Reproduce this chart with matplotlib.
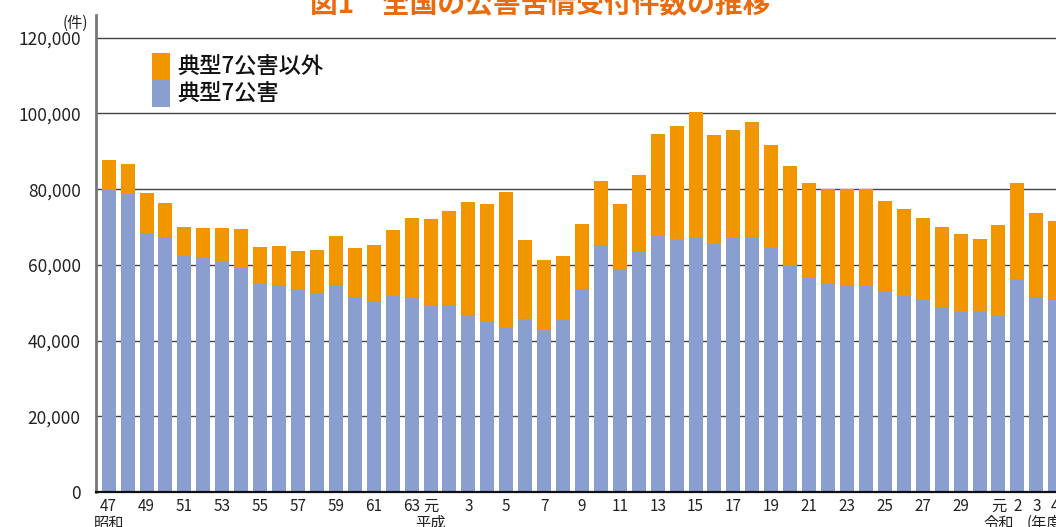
import matplotlib
matplotlib.use("Agg")
import matplotlib.pyplot as plt
from matplotlib.patches import Rectangle

plt.rcParams["font.family"] = ["Noto Sans CJK JP", "DejaVu Sans"]

# fiscal years S47 .. R4 (51 bars)
year_labels = ["47", "", "49", "", "51", "", "53", "", "55", "", "57", "", "59", "", "61", "", "63",
               "元", "", "3", "", "5", "", "7", "", "9", "", "11", "", "13", "", "15", "", "17", "",
               "19", "", "21", "", "23", "", "25", "", "27", "", "29", "",
               "元", "2", "3", "4"]
era_labels = ["昭和", "平成", "令和"]
era_index = [0, 17, 47]

typical7 = [79890, 78840, 68450, 67400, 62460, 61930, 61060, 59290, 55060, 54530,
            53470, 52600, 54720, 51550, 50300, 51890, 51360, 49250, 49430, 46790,
            45020, 43440, 45730, 42910, 45550, 53660, 65100, 58940, 63700, 67740,
            66870, 67210, 65630, 67210, 67480, 64570, 59810, 56830, 55060, 54530,
            54530, 53130, 52070, 50830, 48900, 47660, 47850, 46610, 56300, 51550, 50830]
others = [7850, 7840, 10570, 8980, 7580, 7840, 8710, 10220, 9700, 10490,
          10230, 11360, 12940, 12940, 14980, 17360, 21060, 22900, 24840, 29850,
          31090, 35850, 20880, 18410, 16830, 17170, 17090, 17170, 20080, 26950,
          29930, 33290, 28800, 28540, 30380, 27210, 26390, 24830, 25020, 25550,
          25550, 23780, 22730, 21590, 21140, 20530, 19020, 23960, 25360, 22190, 20800]

yticks = [0, 20000, 40000, 60000, 80000, 100000, 120000]
ytick_labels = ["0", "20,000", "40,000", "60,000", "80,000", "100,000", "120,000"]

BLUE = "#8b9ed0"
ORANGE = "#f29600"

W, H = 1056, 527
fig = plt.figure(figsize=(W / 100, H / 100), dpi=100)
ax = fig.add_axes([96 / W, 35 / H, 1 - 96 / W, (492 - 15) / H])

x = list(range(len(typical7)))
ax.bar(x, typical7, width=0.74, color=BLUE, zorder=2)
ax.bar(x, others, width=0.74, bottom=typical7, color=ORANGE, zorder=2)

ax.set_xlim(-0.67, 50.04)
ax.set_ylim(0, 126000)
ax.set_yticks(yticks)
ax.set_yticklabels(ytick_labels, fontsize=12.5, color="#222222")
ax.set_xticks(x)
ax.set_xticklabels(year_labels, fontsize=11, color="#222222")
ax.tick_params(axis="y", length=0, pad=11)
ax.tick_params(axis="x", length=0, pad=4)

for y in yticks[1:]:
    ax.axhline(y, color="#444444", lw=1.0, zorder=1)

for s in ("top", "right"):
    ax.spines[s].set_visible(False)
ax.spines["left"].set_color("#777777")
ax.spines["left"].set_linewidth(2)
ax.spines["bottom"].set_color("#111111")
ax.spines["bottom"].set_linewidth(1.6)

trans = ax.get_xaxis_transform()
for lab, i in zip(era_labels, era_index):
    ax.text(i, -0.048, lab, transform=trans, ha="center", va="top", fontsize=11, color="#222222")
ax.text(48.5, -0.048, "(年度)", transform=trans, ha="left", va="top", fontsize=11, color="#222222")

fig.text(75 / W, 1 - 23 / H, "(件)", ha="center", va="center", fontsize=11, color="#222222")

# title (cut off at the top in the reference)
fig.text(540 / W, 1 - 12 / H, "図1　全国の公害苦情受付件数の推移", ha="center", va="baseline",
         fontsize=20, fontweight="bold", color="#ea6a0e")

# legend
fig.add_artist(Rectangle((152 / W, 1 - 80 / H), 18 / W, 27 / H, transform=fig.transFigure,
                         color=ORANGE, lw=0))
fig.add_artist(Rectangle((152 / W, 1 - 107 / H), 18 / W, 27 / H, transform=fig.transFigure,
                         color=BLUE, lw=0))
fig.text(177 / W, 1 - 67 / H, "典型7公害以外", ha="left", va="center", fontsize=16,
         fontweight="medium", color="#111111")
fig.text(177 / W, 1 - 94 / H, "典型7公害", ha="left", va="center", fontsize=16,
         fontweight="medium", color="#111111")

fig.savefig("out.png", dpi=100)
